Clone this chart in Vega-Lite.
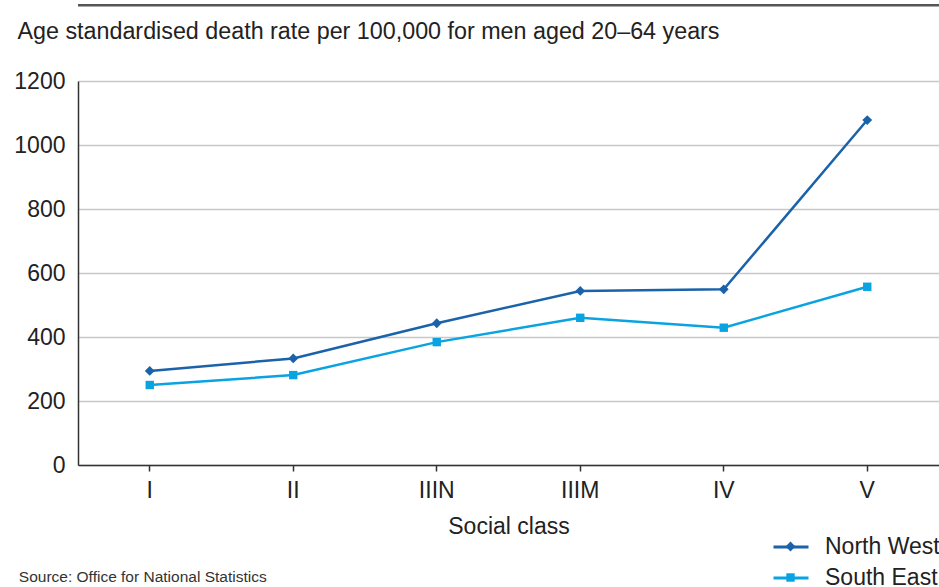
{
  "$schema": "https://vega.github.io/schema/vega-lite/v6.json",
  "autosize": "none",
  "width": 861,
  "height": 384,
  "padding": {"left": 78, "top": 81, "right": 0, "bottom": 122},
  "background": "white",
  "title": {
    "text": "Source: Office for National Statistics",
    "orient": "bottom",
    "anchor": "start",
    "frame": "bounds",
    "fontSize": 15.5,
    "fontWeight": "normal",
    "color": "#333333",
    "font": "Liberation Sans",
    "offset": 0,
    "dx": 5,
    "dy": -20
  },
  "config": {
    "font": "Liberation Sans",
    "view": {"stroke": null},
    "axis": {"labelFont": "Liberation Sans", "titleFont": "Liberation Sans"},
    "axisY": {"grid": true, "gridColor": "#c8c8c8", "gridWidth": 1.5}
  },
  "data": {
    "values": [
      {"social_class": "I", "region": "North West", "rate": 294},
      {"social_class": "II", "region": "North West", "rate": 333},
      {"social_class": "IIIN", "region": "North West", "rate": 443},
      {"social_class": "IIIM", "region": "North West", "rate": 544},
      {"social_class": "IV", "region": "North West", "rate": 549},
      {"social_class": "V", "region": "North West", "rate": 1078},
      {"social_class": "I", "region": "South East", "rate": 250},
      {"social_class": "II", "region": "South East", "rate": 281},
      {"social_class": "IIIN", "region": "South East", "rate": 384},
      {"social_class": "IIIM", "region": "South East", "rate": 460},
      {"social_class": "IV", "region": "South East", "rate": 429},
      {"social_class": "V", "region": "South East", "rate": 557}
    ]
  },
  "layer": [
    {
      "mark": {"type": "line", "strokeWidth": 2.5},
      "encoding": {
        "x": {
          "field": "social_class",
          "type": "ordinal",
          "sort": ["I", "II", "IIIN", "IIIM", "IV", "V"],
          "scale": {"type": "band", "paddingInner": 0, "paddingOuter": 0},
          "axis": {
            "title": "Social class",
            "labelAngle": 0,
            "labelFontSize": 23,
            "labelColor": "#222222",
            "labelPadding": 8,
            "tickSize": 6,
            "tickColor": "#333333",
            "tickWidth": 1.5,
            "domainColor": "#333333",
            "domainWidth": 1.5,
            "grid": false,
            "titleFontSize": 23,
            "titleFontWeight": "normal",
            "titleColor": "#222222",
            "titlePadding": 13
          }
        },
        "y": {
          "field": "rate",
          "type": "quantitative",
          "scale": {"domain": [0, 1200], "nice": false},
          "axis": {
            "values": [0, 200, 400, 600, 800, 1000, 1200],
            "format": "d",
            "grid": true,
            "title": "Age standardised death rate per 100,000 for men aged 20–64 years",
            "titleAngle": 0,
            "titleAlign": "left",
            "titleBaseline": "alphabetic",
            "titleX": -61,
            "titleY": -43,
            "titleFontSize": 23.3,
            "titleFontWeight": "normal",
            "titleColor": "#222222",
            "labelFontSize": 23,
            "labelColor": "#222222",
            "labelPadding": 13,
            "ticks": false,
            "domainColor": "#333333",
            "domainWidth": 1.5,
            "gridColor": "#c8c8c8",
            "gridWidth": 1.5
          }
        },
        "stroke": {
          "field": "region",
          "type": "nominal",
          "scale": {"range": ["#1a62aa", "#0aa3e2"]},
          "legend": {
            "title": null,
            "orient": "none",
            "legendX": 694,
            "legendY": 447,
            "labelFontSize": 23,
            "labelColor": "#222222",
            "labelFont": "Liberation Sans",
            "symbolType": "stroke",
            "symbolSize": 1225,
            "symbolStrokeWidth": 3,
            "labelOffset": 15,
            "rowPadding": 0
          }
        },
        "detail": {"field": "region"}
      }
    },
    {
      "mark": {"type": "point", "filled": true, "opacity": 1, "size": 1225, "strokeWidth": 0},
      "encoding": {
        "x": {
          "field": "social_class",
          "type": "ordinal",
          "sort": ["I", "II", "IIIN", "IIIM", "IV", "V"]
        },
        "y": {"field": "rate", "type": "quantitative"},
        "color": {
          "field": "region",
          "type": "nominal",
          "scale": {"domain": ["North West", "South East"], "range": ["#1a62aa", "#0aa3e2"]},
          "legend": {
            "title": null,
            "orient": "none",
            "legendX": 694,
            "legendY": 447,
            "labelFontSize": 23,
            "labelOpacity": 0,
            "labelFont": "Liberation Sans",
            "symbolSize": 1225,
            "labelOffset": 15,
            "rowPadding": 0
          }
        },
        "shape": {
          "field": "region",
          "type": "nominal",
          "scale": {
            "domain": ["North West", "South East"],
            "range": [
              "M0,-0.28L0.28,0L0,0.28L-0.28,0Z",
              "M-0.24,-0.24H0.24V0.24H-0.24Z"
            ]
          },
          "legend": {
            "title": null,
            "orient": "none",
            "legendX": 694,
            "legendY": 447,
            "labelFontSize": 23,
            "labelOpacity": 0,
            "labelFont": "Liberation Sans",
            "symbolSize": 1225,
            "labelOffset": 15,
            "rowPadding": 0
          }
        }
      }
    },
    {
      "data": {"values": [{"line": "top"}]},
      "mark": {"type": "rule", "stroke": "#555555", "strokeWidth": 2.5},
      "encoding": {"y": {"datum": 1437}}
    }
  ]
}
